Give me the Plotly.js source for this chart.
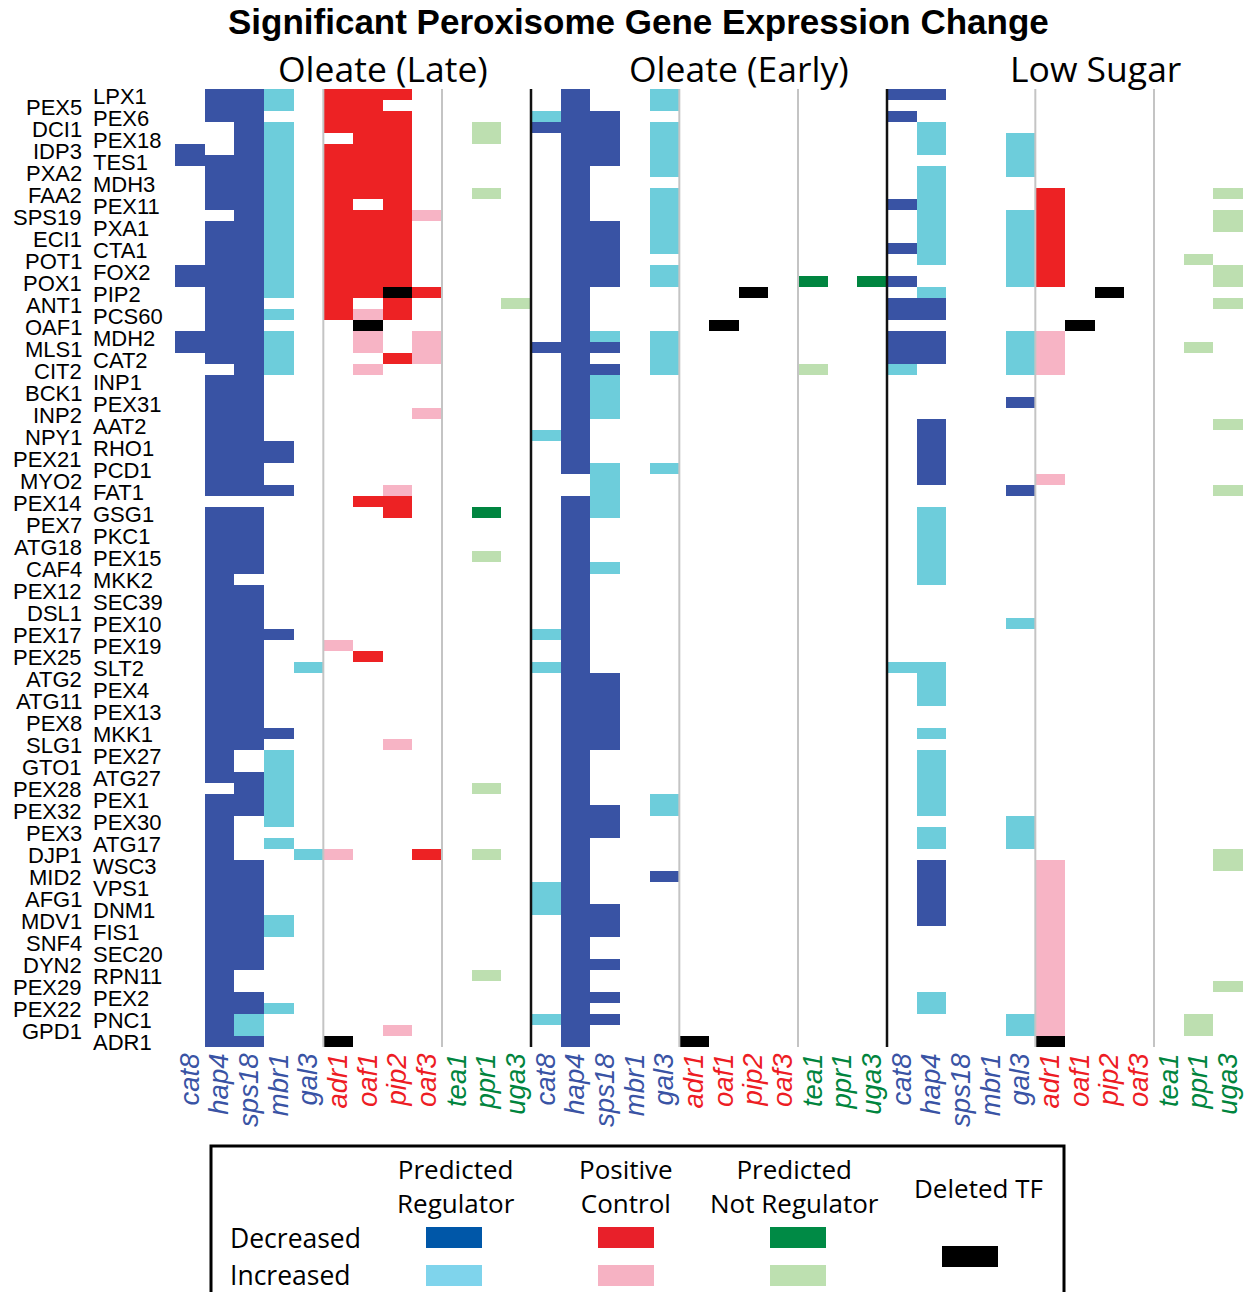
<!DOCTYPE html>
<html>
<head>
<meta charset="utf-8">
<script src="https://cdn.plot.ly/plotly-3.0.1.min.js"></script>
<style>html,body{margin:0;padding:0;background:#fff;}#chart{width:1246px;height:1292px;}</style>
</head>
<body>
<div id="chart"></div>
<script>
// ---------- DATA ----------
const chartTitle = 'Significant Peroxisome Gene Expression Change';
const panelTitles = ['Oleate (Late)', 'Oleate (Early)', 'Low Sugar'];
const tfNames = ['cat8','hap4','sps18','mbr1','gal3','adr1','oaf1','pip2','oaf3','tea1','ppr1','uga3'];
// 0 = predicted regulator, 1 = positive control, 2 = predicted not regulator
const tfGroup = [0,0,0,0,0,1,1,1,1,2,2,2];
const geneRows = ['LPX1','PEX5','PEX6','DCI1','PEX18','IDP3','TES1','PXA2','MDH3','FAA2',
  'PEX11','SPS19','PXA1','ECI1','CTA1','POT1','FOX2','POX1','PIP2','ANT1',
  'PCS60','OAF1','MDH2','MLS1','CAT2','CIT2','INP1','BCK1','PEX31','INP2',
  'AAT2','NPY1','RHO1','PEX21','PCD1','MYO2','FAT1','PEX14','GSG1','PEX7',
  'PKC1','ATG18','PEX15','CAF4','MKK2','PEX12','SEC39','DSL1','PEX10','PEX17',
  'PEX19','PEX25','SLT2','ATG2','PEX4','ATG11','PEX13','PEX8','MKK1','SLG1',
  'PEX27','GTO1','ATG27','PEX28','PEX1','PEX32','PEX30','PEX3','ATG17','DJP1',
  'WSC3','MID2','VPS1','AFG1','DNM1','MDV1','FIS1','SNF4','SEC20','DYN2',
  'RPN11','PEX29','PEX2','PEX22','PNC1','GPD1','ADR1'];
// One string per TF (column), one character per gene row (spaces only group rows by 10):
// '.' no change, 'd' decreased, 'u' increased, 'x' deleted TF
const oleateLate = [
  '.....dd... ......dd.. ..dd...... .......... .......... .......... .......... .......... .......', // cat8
  'ddd...dddd d.dddddddd ddddd.dddd ddddddd.dd dddddddddd dddddddddd ddd.dddddd dddddddddd ddddddd', // hap4
  'dddddddddd dddddddddd dddddddddd ddddddd.dd dddd.ddddd dddddddddd ..dddd.... dddddddddd ..dduud', // sps18
  'uu.uuuuuuu uuuuuuuuu. u.uuuu.... ..dd..d... .........d ........d. uuuuuuu.u. .....uu... ...u...', // mbr1
  '.......... .......... .......... .......... .......... ..u....... .........u .......... .......', // gal3
  'dddd.ddddd dddddddddd d......... .......... .......... u......... .........u .......... ......x', // adr1
  'dddddddddd .dddddddd. uxuu.u.... .......d.. .......... .d........ .......... .......... .......', // oaf1
  'd.dddddddd ddddddddxd d...d..... ......udd. .......... .........u .......... .......... .....u.', // pip2
  '.......... .u......d. ..uuu....u .......... .......... .......... .........d .......... .......', // oaf3
  '.......... .......... .......... .......... .......... .......... .......... .......... .......', // tea1
  '...uu....u .......... .......... ........d. ..u....... .......... ...u.....u .......... u......', // ppr1
  '.......... .........u .......... .......... .......... .......... .......... .......... .......'  // uga3
];
const oleateEarly = [
  '..ud...... .......... ...d...... .u........ .........u ..u....... .......... ..uuu..... ....u..', // cat8
  'dddddddddd dddddddddd dddddddddd ddddd..ddd dddddddddd dddddddddd dddddddddd dddddddddd ddddddd', // hap4
  '..ddddd... ..dddddd.. ..ud.duuuu ....uuuuu. ...u...... ...ddddddd .....ddd.. ....ddd..d ..d.d..', // sps18
  '.......... .......... .......... .......... .......... .......... .......... .......... .......', // mbr1
  'uu.uuuuu.u uuuuu.uu.. ..uuuu.... ....u..... .......... .......... ....uu.... .d........ .......', // gal3
  '.......... .......... .......... .......... .......... .......... .......... .......... ......x', // adr1
  '.......... .......... .x........ .......... .......... .......... .......... .......... .......', // oaf1
  '.......... ........x. .......... .......... .......... .......... .......... .......... .......', // pip2
  '.......... .......... .......... .......... .......... .......... .......... .......... .......', // oaf3
  '.......... .......d.. .....u.... .......... .......... .......... .......... .......... .......', // tea1
  '.......... .......... .......... .......... .......... .......... .......... .......... .......', // ppr1
  '.......... .......d.. .......... .......... .......... .......... .......... .......... .......'  // uga3
];
const lowSugar = [
  'd.d....... d...d..d.d d.dddu.... .......... .......... ..u....... .......... .......... .......', // cat8
  'd..uuu.uuu uuuuuu..ud d.ddd..... dddddd..uu uuuuu..... ..uuuu..u. uuuuuu.uu. dddddd.... ..uu...', // hap4
  '.......... .......... .......... .......... .......... .......... .......... .......... .......', // sps18
  '.......... .......... .......... .......... .......... .......... .......... .......... .......', // mbr1
  '....uuuu.. .uuuuuuu.. ..uuuu..d. ......d... ........u. .......... ......uuu. .......... ....uu.', // gal3
  '.........d dddddddd.. ..uuuu.... .....u.... .......... .......... .......... uuuuuuuuuu uuuuuux', // adr1
  '.......... .......... .x........ .......... .......... .......... .......... .......... .......', // oaf1
  '.......... ........x. .......... .......... .......... .......... .......... .......... .......', // pip2
  '.......... .......... .......... .......... .......... .......... .......... .......... .......', // oaf3
  '.......... .......... .......... .......... .......... .......... .......... .......... .......', // tea1
  '.......... .....u.... ...u...... .......... .......... .......... .......... .......... ....uu.', // ppr1
  '.........u .uu...uu.u .......... u.....u... .......... .......... .........u u......... .u.....'  // uga3
];
const legendColumns = ['Predicted<br>Regulator', 'Positive<br>Control', 'Predicted<br>Not Regulator', 'Deleted TF'];
const legendRows = ['Decreased', 'Increased'];

// ---------- STYLE ----------
// code colours: 1 dec/pred, 2 inc/pred, 3 dec/pos, 4 inc/pos, 5 dec/not, 6 inc/not, 7 deleted
const cellColors = ['#3953a4','#6dcddb','#ed2224','#f7b4c5','#008540','#bddfb0','#000000'];
const legendColors = [['#0057a8','#7fd4ec'],['#e8202a','#f6b2c3'],['#008a45','#bde0b0']];
const groupTextColors = ['#3953a4','#ed1c24','#00843d'];

const panelsData = [oleateLate, oleateEarly, lowSugar];
const nRows = geneRows.length;
const nCols = tfNames.length * panelsData.length;

const z = [];
for (let r = 0; r < nRows; r++) z.push(new Array(nCols).fill(null));
panelsData.forEach((panel, p) => {
  panel.forEach((colStr, c) => {
    const s = colStr.replace(/ /g, '');
    const g = tfGroup[c];
    for (let r = 0; r < nRows; r++) {
      const ch = s[r];
      let code = null;
      if (ch === 'd') code = 1 + 2 * g;
      else if (ch === 'u') code = 2 + 2 * g;
      else if (ch === 'x') code = 7;
      z[r][p * tfNames.length + c] = code;
    }
  });
});

const colorscale = [];
cellColors.forEach((col, i) => {
  colorscale.push([i / 7, col]);
  colorscale.push([(i + 1) / 7, col]);
});

const xVals = [], tickText = [];
for (let p = 0; p < panelsData.length; p++) {
  tfNames.forEach((n, c) => {
    xVals.push(p * tfNames.length + c);
    tickText.push('<span style="color:' + groupTextColors[tfGroup[c]] + '">' + n + '</span>');
  });
}

const trace = {
  type: 'heatmap',
  z: z,
  x: xVals,
  y: geneRows.map((g, i) => i),
  colorscale: colorscale,
  zmin: 0.5, zmax: 7.5,
  showscale: false,
  hoverinfo: 'skip',
  xgap: 0, ygap: 0
};

// plot area in pixels
const L = 175, R = 1243, T = 89, B = 1047;
const W = 1246, H = 1292;
const px = x => (x - L) / (R - L);
const py = y => (B - y) / (B - T);

const shapes = [];
const annotations = [];

// separators
for (let p = 0; p < panelsData.length; p++) {
  [4.5, 8.5].forEach(v => shapes.push({type:'line', xref:'x', yref:'paper', x0:p*12+v, x1:p*12+v, y0:0, y1:1,
    line:{color:'#c4c4c4', width:2}}));
  if (p > 0) shapes.push({type:'line', xref:'x', yref:'paper', x0:p*12-0.5, x1:p*12-0.5, y0:0, y1:1,
    line:{color:'#111111', width:2.5}});
}

// title
annotations.push({xref:'paper', yref:'paper', x:px(638), y:py(22), xanchor:'center', yanchor:'middle',
  text:'<b>' + chartTitle + '</b>', showarrow:false,
  font:{family:'Liberation Sans, Arial, sans-serif', size:35, color:'#000'}});
// panel titles
[383, 739, 1095].forEach((cx, i) => annotations.push({xref:'paper', yref:'paper', x:px(cx), y:py(68),
  xanchor:'center', yanchor:'middle', text:panelTitles[i], showarrow:false,
  font:{family:'Open Sans, sans-serif', size:35.5, color:'#000'}}));

// gene row labels (staggered)
geneRows.forEach((g, i) => {
  const left = (i % 2 === 1);
  annotations.push({xref:'paper', yref:'y', x:0, y:i, xanchor:left ? 'right' : 'left', yanchor:'middle',
    xshift:left ? -91 : -84, yshift:-1.5, text:g, showarrow:false,
    font:{family:'Liberation Sans, Arial, sans-serif', size:22, color:'#000'}});
});

// legend box
shapes.push({type:'rect', xref:'paper', yref:'paper', x0:px(211), x1:px(1064), y0:py(1300), y1:py(1146),
  line:{color:'#000', width:3}, fillcolor:'rgba(0,0,0,0)'});
const legX = [456, 626, 794];
legendColumns.slice(0, 3).forEach((t, i) => annotations.push({xref:'paper', yref:'paper', x:px(legX[i]), y:py(1186),
  xanchor:'center', yanchor:'middle', text:t, showarrow:false,
  font:{family:'Open Sans, sans-serif', size:26, color:'#000'}}));
annotations.push({xref:'paper', yref:'paper', x:px(978), y:py(1188), xanchor:'center', yanchor:'middle',
  text:legendColumns[3], showarrow:false, font:{family:'Open Sans, sans-serif', size:26, color:'#000'}});
[1238, 1275].forEach((yy, i) => annotations.push({xref:'paper', yref:'paper', x:px(228), y:py(yy),
  xanchor:'left', yanchor:'middle', text:legendRows[i], showarrow:false,
  font:{family:'Open Sans, sans-serif', size:26.5, color:'#000'}}));
const swX = [426, 598, 770];
swX.forEach((sx, i) => {
  shapes.push({type:'rect', xref:'paper', yref:'paper', x0:px(sx), x1:px(sx+56), y0:py(1248), y1:py(1227),
    line:{width:0}, fillcolor:legendColors[i][0]});
  shapes.push({type:'rect', xref:'paper', yref:'paper', x0:px(sx), x1:px(sx+56), y0:py(1286), y1:py(1265),
    line:{width:0}, fillcolor:legendColors[i][1]});
});
shapes.push({type:'rect', xref:'paper', yref:'paper', x0:px(942), x1:px(998), y0:py(1267), y1:py(1246),
  line:{width:0}, fillcolor:'#000'});

const layout = {
  width: W, height: H,
  margin: {l:L, r:W-R, t:T, b:H-B, pad:0},
  paper_bgcolor:'#fff', plot_bgcolor:'#fff',
  showlegend:false,
  xaxis: {range:[-0.5, nCols-0.5], tickvals:xVals, ticktext:tickText, tickangle:-90,
    tickfont:{family:'Liberation Sans, Arial, sans-serif', size:27.5, style:'italic'},
    showgrid:false, zeroline:false, showline:false, ticks:'', fixedrange:true},
  yaxis: {range:[nRows-0.5, -0.5], showticklabels:false, showgrid:false, zeroline:false, showline:false,
    ticks:'', fixedrange:true},
  shapes: shapes,
  annotations: annotations
};

Plotly.newPlot('chart', [trace], layout, {staticPlot:true, displayModeBar:false});
</script>
</body>
</html>
